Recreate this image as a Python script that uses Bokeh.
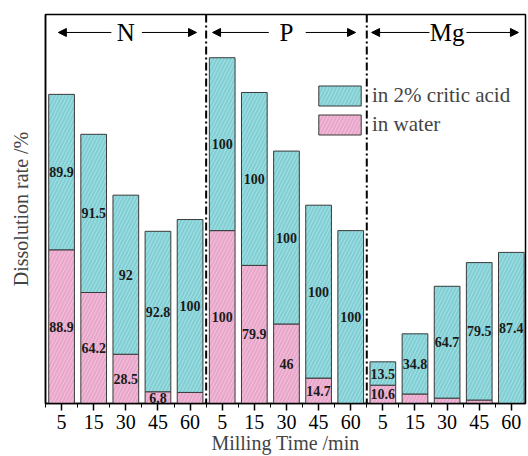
from bokeh.plotting import figure
from bokeh.models import (ColumnDataSource, Range1d, FixedTicker, Span, Label, Arrow,
                          NormalHead, Legend, LegendItem)
from bokeh.core.properties import value
from bokeh.embed import file_html
from bokeh.resources import INLINE

# ---- data ----
groups = ["N", "P", "Mg"]
times = ["5", "15", "30", "45", "60"]
water = [88.9, 64.2, 28.5, 6.8, 6.4,
         100, 79.9, 46, 14.7, 0,
         10.6, 5.5, 3.1, 2.0, 0]
citric = [89.9, 91.5, 92, 92.8, 100,
          100, 100, 100, 100, 100,
          13.5, 34.8, 64.7, 79.5, 87.4]
water_labels = ["88.9", "64.2", "28.5", "6.8", "",
                "100", "79.9", "46", "14.7", "",
                "10.6", "", "", "", ""]
citric_labels = ["89.9", "91.5", "92", "92.8", "100",
                 "100", "100", "100", "100", "100",
                 "13.5", "34.8", "64.7", "79.5", "87.4"]

n = len(water)
xs = list(range(n))
tick_labels = times * len(groups)

src = ColumnDataSource(dict(
    x=xs, water=water, citric=citric,
    yw=[w / 2 for w in water],
    yc=[w + c / 2 for w, c in zip(water, citric)],
    lw=water_labels, lc=citric_labels,
))

CYAN = "#7fcfd4"
PINK = "#e9a6ca"
SERIF = "Liberation Serif"

p = figure(width=528, height=456, output_backend="svg", toolbar_location=None,
           x_range=Range1d(-0.5, 14.44), y_range=Range1d(0, 225),
           min_border_left=45, min_border_right=3, min_border_top=14, min_border_bottom=53)
p.background_fill_color = "white"
p.border_fill_color = "white"
p.outline_line_color = "black"
p.outline_line_width = 1.5
p.xgrid.visible = False
p.ygrid.visible = False

rs = p.vbar_stack(["water", "citric"], x="x", width=0.8, source=src,
                  fill_color=[PINK, CYAN], line_color="#3a3a3a", line_width=1,
                  hatch_pattern="/", hatch_color="white", hatch_alpha=0.35,
                  hatch_scale=7, hatch_weight=1)

p.text(x="x", y="yw", text="lw", source=src, text_font=value(SERIF),
       text_font_style="bold", text_font_size="14px", text_align="center",
       text_baseline="middle", text_color="#1a1a1a")
p.text(x="x", y="yc", text="lc", source=src, text_font=value(SERIF),
       text_font_style="bold", text_font_size="14px", text_align="center",
       text_baseline="middle", text_color="#1a1a1a")

# group separators
for loc in [4.5, 9.5]:
    p.add_layout(Span(location=loc, dimension="height", line_color="black",
                      line_width=2, line_dash="8 3 2 3"))

# group headers with arrows
hy = 214.6
headers = [
    (groups[0], 2.0, (1.55, -0.1), (2.5, 4.2)),
    (groups[1], 7.0, (6.45, 4.7), (7.6, 9.15)),
    (groups[2], 12.0, (11.45, 9.65), (12.6, 14.22)),
]
for name, cx, (l0, l1), (r0, r1) in headers:
    p.add_layout(Label(x=cx, y=hy, text=name, text_font=SERIF, text_font_size="25px",
                       text_align="center", text_baseline="middle", text_color="black"))
    for s, e in [(l0, l1), (r0, r1)]:
        p.add_layout(Arrow(end=NormalHead(size=8, fill_color="black", line_color="black"),
                           x_start=s, y_start=hy, x_end=e, y_end=hy,
                           line_color="black", line_width=1))

# axes
p.xaxis.ticker = FixedTicker(ticks=xs, minor_ticks=[i + 0.5 for i in range(-1, n)])
p.xaxis.major_label_overrides = {i: t for i, t in enumerate(tick_labels)}
p.xaxis.major_label_text_font = SERIF
p.xaxis.major_label_text_font_size = "20px"
p.xaxis.major_label_text_color = "black"
p.xaxis.major_label_standoff = 4
p.xaxis.major_tick_in = 0
p.xaxis.major_tick_out = 7
p.xaxis.minor_tick_in = 0
p.xaxis.minor_tick_out = 4
p.xaxis.axis_line_width = 1.5
p.xaxis.major_tick_line_width = 1.5
p.xaxis.axis_label = "Milling Time /min"
p.xaxis.axis_label_text_font = SERIF
p.xaxis.axis_label_text_font_size = "20px"
p.xaxis.axis_label_text_font_style = "normal"
p.xaxis.axis_label_standoff = 0

p.yaxis.ticker = FixedTicker(ticks=[])
p.yaxis.major_tick_line_color = None
p.yaxis.minor_tick_line_color = None
p.yaxis.axis_line_width = 1.5
p.yaxis.axis_label = "Dissolution rate /%"
p.yaxis.axis_label_text_font = SERIF
p.yaxis.axis_label_text_font_size = "20px"
p.yaxis.axis_label_text_font_style = "normal"
p.yaxis.axis_label_standoff = 14

legend = Legend(items=[LegendItem(label="in 2% critic acid", renderers=[rs[1]]),
                       LegendItem(label="in water", renderers=[rs[0]])],
                location=(268, 266), glyph_width=53, glyph_height=25,
                label_text_font=SERIF, label_text_font_size="21px",
                label_standoff=6, spacing=4, padding=0, margin=0,
                border_line_alpha=0, background_fill_alpha=0)
p.add_layout(legend)

open("out.html", "w").write(file_html(p, INLINE))
